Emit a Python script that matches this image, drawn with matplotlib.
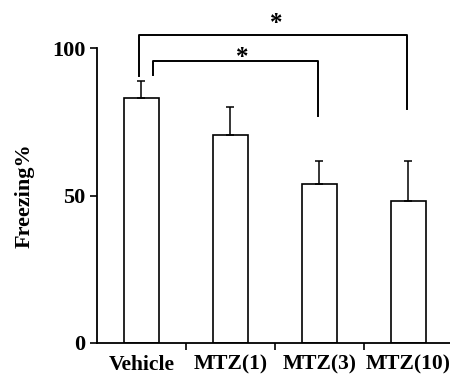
import matplotlib.pyplot as plt

# dati
groups = ['Vehicle', 'MTZ(1)', 'MTZ(3)', 'MTZ(10)']
freezing = [83.0, 70.5, 54.0, 48.2]
err_up = [5.8, 9.5, 7.7, 13.5]

plt.rcParams['font.family'] = ['Liberation Serif', 'DejaVu Serif']
plt.rcParams['font.weight'] = 'bold'

fig = plt.figure(figsize=(4.5, 3.74), dpi=100)
ax = fig.add_axes([97 / 450, 31 / 374, 353 / 450, 330 / 374])

x = list(range(len(groups)))
ax.bar(x, freezing, width=0.39, color='white', edgecolor='black', linewidth=1.2,
       yerr=[[0] * len(err_up), err_up], capsize=3,
       error_kw=dict(elinewidth=1.1, capthick=1.1, ecolor='black'))

ax.set_xlim(-0.5, 3.47)
ax.set_ylim(0, 112)

# assi
ax.spines['top'].set_visible(False)
ax.spines['right'].set_visible(False)
ax.spines['left'].set_bounds(0, 100)
ax.spines['left'].set_linewidth(1.3)
ax.spines['bottom'].set_linewidth(1.3)

ax.set_yticks([0, 50, 100])
ax.set_yticklabels(['0', '50', '100'], fontsize=16, fontweight='bold')
ax.set_xticks([0.5, 1.5, 2.5])
ax.set_xticklabels([])
ax.tick_params(axis='both', direction='out', length=5, width=1.2)
for xi, name in zip(x, groups):
    ax.text(xi, -4, name, ha='center', va='top', fontsize=15.5, fontweight='bold')

ax.set_ylabel('Freezing%', fontsize=16, fontweight='bold')
ax.yaxis.set_label_coords(-0.178, 0.448)

# parentesi di significativita'
ax.plot([-0.03, -0.03, 2.99, 2.99], [90.6, 104.7, 104.7, 79.3], color='black', lw=1.4, clip_on=False)
ax.plot([0.13, 0.13, 1.99, 1.99], [90.8, 95.6, 95.6, 77.0], color='black', lw=1.4, clip_on=False)
ax.text(1.51, 104.5, '*', ha='center', va='bottom', fontsize=18, fontweight='bold')
ax.text(1.13, 92.9, '*', ha='center', va='bottom', fontsize=18, fontweight='bold')

fig.savefig('out.png', dpi=100)
